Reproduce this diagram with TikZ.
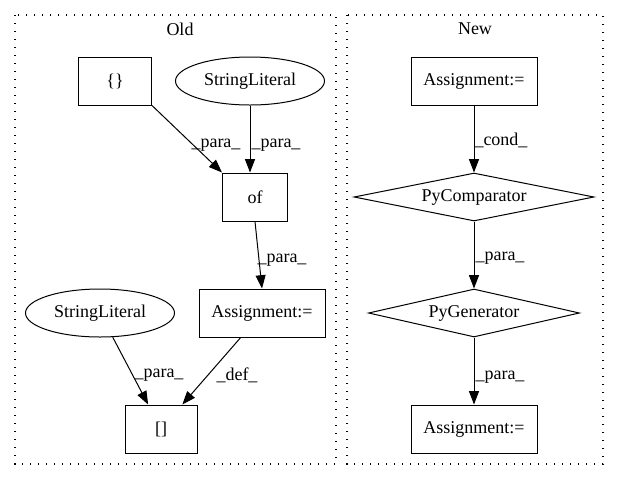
\documentclass[tikz,border=0pt]{standalone}
\usepackage{fontspec}
\setmainfont{Liberation Serif}
\usetikzlibrary{arrows.meta, shapes.geometric}

\begin{document}
\begin{tikzpicture}[x=0.75pt, y=-0.75pt, font=\fontsize{13.5}{16}\selectfont]

	\tikzstyle{box_node}=[rectangle, draw=black, line width=0.75pt, minimum height=36pt, inner sep=0pt]
	\tikzstyle{literal_node}=[ellipse, draw=black, line width=0.75pt, minimum width=111.75pt, minimum height=36pt, inner sep=0pt]
	\tikzstyle{test_node}=[diamond, draw=black, line width=0.75pt, minimum height=36pt, aspect=5, inner sep=0pt]
	\tikzstyle{flow_arrow}=[-{Triangle[length=10pt, width=7.5pt]}, line width=0.75pt]
	\tikzstyle{edge_label}=[inner sep=0pt]
	\tikzstyle{cluster_box}=[draw=black, line width=1pt, dash pattern=on 1pt off 5pt]

	\useasboundingbox (0,0) rectangle (619,480);

	\draw[cluster_box] (15,15) rectangle (336,464);
	\draw[cluster_box] (347,15) rectangle (603,464);
	\node[] at (180,29) (old_title) {Old};
	\node[] at (475,29) (new_title) {New};

	\node[box_node, minimum width=54.75pt] at (115,81) (brace_node) {\{\}};
	\node[literal_node] at (250,81) (literal_top) {StringLiteral};
	\node[box_node, minimum width=48.75pt] at (255,197) (of_node) {of};
	\node[box_node, minimum width=94.5pt] at (262,313) (assign_old) {Assignment:=};
	\node[literal_node] at (100,313) (literal_left) {StringLiteral};
	\node[box_node, minimum width=54pt] at (161,429) (index_node) {[]};

	\node[box_node, minimum width=94.5pt] at (474,81) (assign_cond) {Assignment:=};
	\node[test_node, minimum width=180pt] at (474,197) (comparator) {PyComparator};
	\node[test_node, minimum width=158.25pt] at (474,313) (generator) {PyGenerator};
	\node[box_node, minimum width=94.5pt] at (474,429) (assign_new) {Assignment:=};

	\draw[flow_arrow] (brace_node.south east) -- (of_node.north west);
	\draw[flow_arrow] (literal_top.south) -- (literal_top.south |- of_node.north);
	\draw[flow_arrow] (of_node.south) -- (assign_old.north);
	\draw[flow_arrow] (literal_left) -- (index_node);
	\draw[flow_arrow] (assign_old) -- (index_node);
	\draw[flow_arrow] (assign_cond) -- (comparator);
	\draw[flow_arrow] (comparator) -- (generator);
	\draw[flow_arrow] (generator) -- (assign_new);

	\node[edge_label] at (216,145) (label_brace) {\_para\_};
	\node[edge_label] at (276,145) (label_literal_top) {\_para\_};
	\node[edge_label] at (282,260) (label_of) {\_para\_};
	\node[edge_label] at (159,375) (label_literal_left) {\_para\_};
	\node[edge_label] at (237,375) (label_def) {\_def\_};
	\node[edge_label] at (501,140) (label_cond) {\_cond\_};
	\node[edge_label] at (500,258) (label_comparator) {\_para\_};
	\node[edge_label] at (500,377) (label_generator) {\_para\_};
\end{tikzpicture}
\end{document}
